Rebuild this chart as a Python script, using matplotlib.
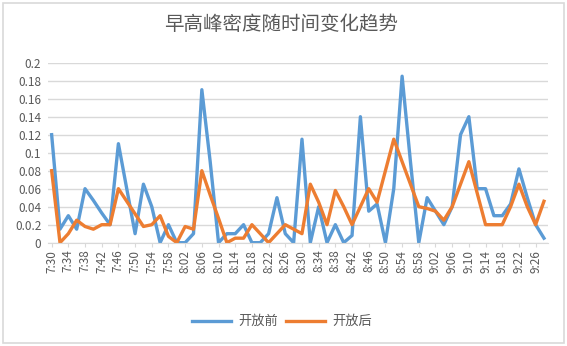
import matplotlib

matplotlib.use("Agg")
import matplotlib.pyplot as plt

plt.rcParams["font.family"] = ["Noto Sans CJK SC", "DejaVu Sans"]

# categories: every 2 minutes from 7:30 to 9:28
times = [
    "7:30", "7:32", "7:34", "7:36", "7:38", "7:40", "7:42", "7:44", "7:46", "7:48",
    "7:50", "7:52", "7:54", "7:56", "7:58", "8:00", "8:02", "8:04", "8:06", "8:08",
    "8:10", "8:12", "8:14", "8:16", "8:18", "8:20", "8:22", "8:24", "8:26", "8:28",
    "8:30", "8:32", "8:34", "8:36", "8:38", "8:40", "8:42", "8:44", "8:46", "8:48",
    "8:50", "8:52", "8:54", "8:56", "8:58", "9:00", "9:02", "9:04", "9:06", "9:08",
    "9:10", "9:12", "9:14", "9:16", "9:18", "9:20", "9:22", "9:24", "9:26", "9:28",
]

before = [
    0.12, 0.015, 0.03, 0.015, 0.06, 0.047, 0.033, 0.02, 0.11, 0.06,
    0.01, 0.065, 0.04, 0.0, 0.02, 0.0, 0.0, 0.01, 0.17, 0.09,
    0.0, 0.01, 0.01, 0.02, 0.0, 0.0, 0.01, 0.05, 0.01, 0.0,
    0.115, 0.0, 0.04, 0.0, 0.02, 0.0, 0.008, 0.14, 0.035, 0.043,
    0.0, 0.06, 0.185, 0.09, 0.0, 0.05, 0.035, 0.02, 0.04, 0.12,
    0.14, 0.06, 0.06, 0.03, 0.03, 0.043, 0.082, 0.05, 0.02, 0.005,
]

after = [
    0.08, 0.0, 0.01, 0.025, 0.018, 0.015, 0.02, 0.02, 0.06, 0.046,
    0.032, 0.018, 0.02, 0.03, 0.007, 0.0, 0.018, 0.015, 0.08, 0.053,
    0.027, 0.0, 0.005, 0.005, 0.02, 0.01, 0.0, 0.01, 0.02, 0.015,
    0.01, 0.065, 0.045, 0.02, 0.058, 0.04, 0.02, 0.04, 0.06, 0.045,
    0.08, 0.115, 0.09, 0.065, 0.04, 0.038, 0.035, 0.025, 0.04, 0.065,
    0.09, 0.055, 0.02, 0.02, 0.02, 0.04, 0.065, 0.04, 0.02, 0.046,
]

y_ticks = [0, 0.02, 0.04, 0.06, 0.08, 0.1, 0.12, 0.14, 0.16, 0.18, 0.2]
y_labels = ["0", "0.0.2", "0.04", "0.06", "0.08", "0.1", "0.12", "0.14", "0.16", "0.18", "0.2"]

text_color = "#595959"
grid_color = "#d9d9d9"

fig = plt.figure(figsize=(5.67, 3.46), dpi=100)
fig.patch.set_facecolor("white")

# chart border
fig.add_artist(plt.Rectangle((3 / 567, 3 / 346), 561 / 567, 340 / 346, transform=fig.transFigure,
                             fill=False, edgecolor=grid_color, linewidth=1.2))

ax = fig.add_axes([0.0852, 0.2986, 0.8808, 0.5202])
x = list(range(len(times)))
ax.plot(x, before, color="#5B9BD5", linewidth=2.4, solid_joinstyle="round", label="开放前")
ax.plot(x, after, color="#ED7D31", linewidth=2.4, solid_joinstyle="round", label="开放后")

ax.set_xlim(-0.4, 59.45)
ax.set_ylim(0, 0.2)
ax.set_yticks(y_ticks)
ax.set_yticklabels(y_labels)
ax.set_xticks(x[::2])
ax.set_xticklabels(times[::2], rotation=90)

ax.grid(axis="y", color=grid_color, linewidth=1.0)
ax.set_axisbelow(True)
for side in ("top", "right", "left"):
    ax.spines[side].set_visible(False)
ax.spines["bottom"].set_color(grid_color)
ax.tick_params(axis="y", length=0, labelsize=8.5, labelcolor=text_color, pad=5)
ax.tick_params(axis="x", length=3, color=grid_color, labelsize=8.5, labelcolor=text_color, pad=2)

fig.text(0.496, 0.928, "早高峰密度随时间变化趋势", ha="center", va="center", fontsize=14, color=text_color)

fig.legend(loc="center", bbox_to_anchor=(0.497, 0.07), ncol=2, frameon=False, fontsize=9.5,
           handlelength=3.0, columnspacing=0.6, handletextpad=0.5, labelcolor=text_color)

fig.savefig("out.png", dpi=100, facecolor="white")
